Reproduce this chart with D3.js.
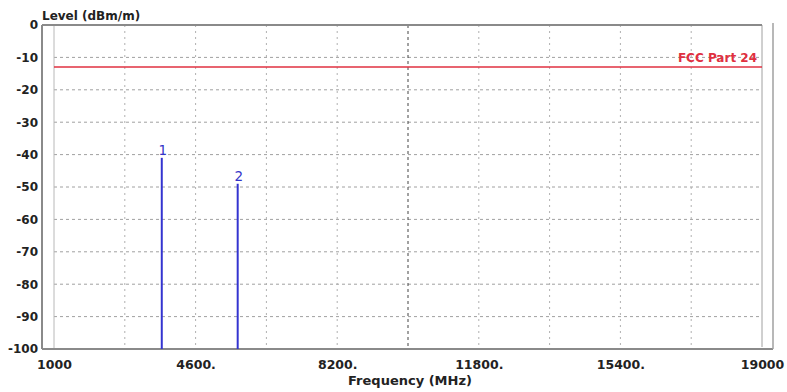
<!DOCTYPE html>
<html><head><meta charset="utf-8">
<script src="https://cdn.jsdelivr.net/npm/d3@7"></script>
<style>
html,body{margin:0;padding:0;background:#fff;}
svg{display:block;}
text{font-family:"DejaVu Sans",Arial,sans-serif;}
</style></head>
<body>
<script>
// ---- data ----
const yTickValues = [0,-10,-20,-30,-40,-50,-60,-70,-80,-90,-100];
const xTickValues = [1000,4600,8200,11800,15400,19000];
const xTickLabels = ["1000","4600.","8200.","11800.","15400.","19000"];
const xGridValues = [2800,4600,6400,8200,11800,13600,15400,17200];
const xCenterLine = [10000];
const markerNames = ["1","2"];
const markerFreqs = [3740,5670];
const markerLevels = [-41,-49];
const limitLevel = [-13];
const limitLabel = ["FCC Part 24"];
const yTitle = "Level (dBm/m)";
const xTitle = "Frequency (MHz)";

const W=787,H=392;
const svg=d3.select("body").append("svg").attr("width",W).attr("height",H);
const x=d3.scaleLinear().domain([1000,19000]).range([54,762]);
const y=d3.scaleLinear().domain([-100,0]).range([349,25]);

// horizontal grid
svg.append("g").selectAll("line").data(yTickValues.filter(v=>v>-100&&v<0)).join("line")
  .attr("x1",x(1000)).attr("x2",x(19000)).attr("y1",d=>y(d)).attr("y2",d=>y(d))
  .attr("stroke","#a0a0a0").attr("stroke-width",1).attr("stroke-dasharray","3,3");
// vertical grid
svg.append("g").selectAll("line").data(xGridValues).join("line")
  .attr("x1",d=>x(d)).attr("x2",d=>x(d)).attr("y1",y(0)).attr("y2",y(-100))
  .attr("stroke","#b0b0b0").attr("stroke-width",1).attr("stroke-dasharray","2,4");
svg.append("g").selectAll("line").data(xCenterLine).join("line")
  .attr("x1",d=>x(d)).attr("x2",d=>x(d)).attr("y1",y(0)).attr("y2",y(-100))
  .attr("stroke","#444").attr("stroke-width",1).attr("stroke-dasharray","3,3");

// frame
const fr=svg.append("g").attr("fill","none");
fr.append("line").attr("x1",x(1000)).attr("x2",x(1000)).attr("y1",y(0)).attr("y2",y(-100)).attr("stroke","#b8b8b8").attr("stroke-width",1);
fr.append("line").attr("x1",x(19000)).attr("x2",x(19000)).attr("y1",y(0)).attr("y2",y(-100)-2).attr("stroke","#a0a0a0").attr("stroke-width",1);
fr.append("line").attr("x1",42).attr("x2",42).attr("y1",y(0)).attr("y2",y(-100)).attr("stroke","#8a8a8a").attr("stroke-width",2);
fr.append("line").attr("x1",42).attr("x2",x(19000)).attr("y1",y(0)).attr("y2",y(0)).attr("stroke","#8a8a8a").attr("stroke-width",2);
fr.append("line").attr("x1",42).attr("x2",773).attr("y1",y(-100)).attr("y2",y(-100)).attr("stroke","#8a8a8a").attr("stroke-width",2);
fr.append("line").attr("x1",773).attr("x2",773).attr("y1",y(0)-2).attr("y2",y(-100)).attr("stroke","#a0a0a0").attr("stroke-width",1.5);

// limit line
svg.append("g").selectAll("line").data(limitLevel).join("line")
  .attr("x1",x(1000)).attr("x2",x(19000)).attr("y1",d=>y(d)).attr("y2",d=>y(d))
  .attr("stroke","#e03040").attr("stroke-width",1.5);
svg.append("g").selectAll("text").data(limitLevel).join("text")
  .attr("x",x(19000)-5).attr("y",d=>y(d)-5).attr("text-anchor","end")
  .attr("fill","#e03040").attr("font-size","12px").attr("font-weight","bold").text((d,i)=>limitLabel[i]);

// markers
svg.append("g").selectAll("line").data(markerFreqs).join("line")
  .attr("x1",d=>x(d)).attr("x2",d=>x(d)).attr("y1",(d,i)=>y(markerLevels[i])).attr("y2",y(-100))
  .attr("stroke","#3434d0").attr("stroke-width",2);
svg.append("g").selectAll("text").data(markerFreqs).join("text")
  .attr("x",d=>x(d)+1).attr("y",(d,i)=>y(markerLevels[i])-3).attr("text-anchor","middle")
  .attr("fill","#3434c8").attr("font-size","13.5px").text((d,i)=>markerNames[i]);

// axes
const ya=svg.append("g").attr("transform","translate(42,0)")
  .call(d3.axisLeft(y).tickValues(yTickValues).tickSize(0).tickPadding(4).tickFormat(d=>String(d)));
ya.select(".domain").remove();
ya.selectAll("text").attr("font-family","DejaVu Sans, Arial, sans-serif").attr("font-size","12px").attr("font-weight","bold").attr("fill","#222");

const xa=svg.append("g").attr("transform",`translate(0,${y(-100)})`)
  .call(d3.axisBottom(x).tickValues(xTickValues).tickSize(0).tickPadding(11).tickFormat((d,i)=>xTickLabels[i]));
xa.select(".domain").remove();
xa.selectAll("text").attr("font-family","DejaVu Sans, Arial, sans-serif").attr("font-size","12.5px").attr("font-weight","bold").attr("fill","#222");

// titles
svg.append("text").attr("x",42).attr("y",20).attr("font-size","12px").attr("font-weight","bold").attr("fill","#222").text(yTitle);
svg.append("text").attr("x",410).attr("y",385).attr("text-anchor","middle").attr("font-size","13px").attr("font-weight","bold").attr("fill","#222").text(xTitle);
</script>
</body></html>
